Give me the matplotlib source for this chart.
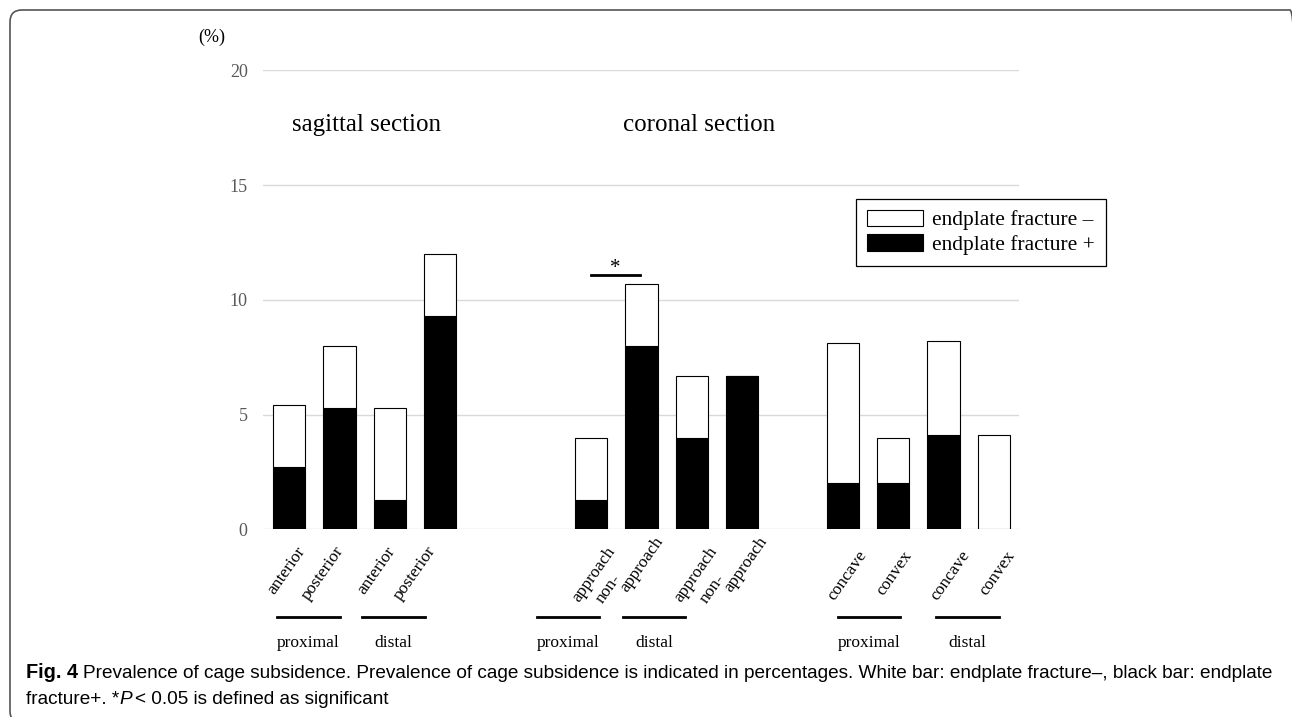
import matplotlib
matplotlib.use('Agg')
import matplotlib.pyplot as plt
import matplotlib.patches as mpatches
from matplotlib.transforms import IdentityTransform
import numpy as np

# prevalence of cage subsidence (%)
bar_labels = ['anterior', 'posterior', 'anterior', 'posterior',
              'approach', 'non-\napproach', 'approach', 'non-\napproach',
              'concave', 'convex', 'concave', 'convex']
fracture_pos = [2.7, 5.3, 1.3, 9.3, 1.3, 8.0, 4.0, 6.7, 2.0, 2.0, 4.1, 0.0]
fracture_neg = [2.7, 2.7, 4.0, 2.7, 2.7, 2.7, 2.7, 0.0, 6.1, 2.0, 4.1, 4.1]
group_labels = ['proximal', 'distal', 'proximal', 'distal', 'proximal', 'distal']
section_titles = ['sagittal section', 'coronal section']
yticks = [0, 5, 10, 15, 20]

# layout
xpos = np.array([0, 1, 2, 3, 6, 7, 8, 9, 11, 12, 13, 14])
label_dx = [13, 1, 2, -8, 21, 19, 22, 22, 21, 16, 23, 18]
label_dy = [-19, -19, -19, -19, -19, -9, -19, -9, -23, -23, -23, -23]
group_mid = [0.38, 2.07, 5.54, 7.25, 11.52, 13.48]
serif = 'Liberation Serif'

W, H = 1292, 717
fig = plt.figure(figsize=(W / 100, H / 100), dpi=100)
ax = fig.add_axes([263 / W, 1 - 529.4 / H, (1019 - 263) / W, (529.4 - 70.3) / H])

ax.bar(xpos, fracture_pos, width=0.64, color='black', edgecolor='black', linewidth=0.8, zorder=3)
ax.bar(xpos, fracture_neg, bottom=fracture_pos, width=0.64, color='white',
       edgecolor='black', linewidth=0.8, zorder=3)

ax.set_xlim(-0.52, 14.5)
ax.set_ylim(0, 20)
ax.set_yticks(yticks)
ax.set_yticklabels([str(v) for v in yticks], family=serif, fontsize=13, color='#595959')
ax.tick_params(axis='y', length=0, pad=11)
ax.set_xticks([])
ax.grid(axis='y', color='#d9d9d9', linewidth=1, zorder=0)
for s in ax.spines.values():
    s.set_visible(False)

# rotated category labels
lab_kw = dict(textcoords='offset pixels', rotation=55, rotation_mode='anchor',
              ha='right', va='center', family=serif, fontsize=12.5, annotation_clip=False)
for i, lab in enumerate(bar_labels):
    if '\n' in lab:
        first, second = lab.split('\n')
        ax.annotate(second, xy=(xpos[i], 0), xytext=(label_dx[i], label_dy[i]), **lab_kw)
        ax.annotate(first, xy=(xpos[i], 0), xytext=(label_dx[i] - 43, label_dy[i] - 37), **lab_kw)
    else:
        ax.annotate(lab, xy=(xpos[i], 0), xytext=(label_dx[i], label_dy[i]), **lab_kw)

# group underlines and names
for m, g in zip(group_mid, group_labels):
    ax.plot([m - 0.62, m + 0.62], [-3.82, -3.82], color='black', lw=2, clip_on=False)
    ax.text(m, -4.95, g, ha='center', va='center', family=serif, fontsize=12.5)

ax.text(1.53, 17.6, section_titles[0], ha='center', va='center', family=serif, fontsize=18)
ax.text(8.14, 17.6, section_titles[1], ha='center', va='center', family=serif, fontsize=18)

# significance marker
ax.plot([6.0, 6.97], [11.1, 11.1], color='black', lw=2, clip_on=False)
ax.text(6.48, 11.35, '*', ha='center', va='center', family=serif, fontsize=15)

fig.text(212 / W, 1 - 37 / H, '(%)', ha='center', va='center', family=serif, fontsize=13)

handles = [mpatches.Patch(facecolor='white', edgecolor='black', linewidth=0.8),
           mpatches.Patch(facecolor='black', edgecolor='black', linewidth=0.8)]
leg = ax.legend(handles, ['endplate fracture \u2013', 'endplate fracture +'],
                loc='upper right', bbox_to_anchor=(1106 / W, 1 - 199 / H),
                bbox_transform=fig.transFigure, borderaxespad=0, fancybox=False,
                edgecolor='black', framealpha=1, handlelength=2.6, handleheight=0.8,
                labelspacing=0.18, handletextpad=0.45, borderpad=0.5,
                prop={'family': serif, 'size': 15.5})
leg.get_frame().set_linewidth(0.9)

# outer rounded frame (right and bottom edges fall outside the picture)
frame = mpatches.FancyBboxPatch((10, -6), 1292, 713, boxstyle='round,pad=0,rounding_size=12',
                                transform=IdentityTransform(), facecolor='none',
                                edgecolor='#555555', linewidth=1.2)
fig.patches.append(frame)

# caption
cap_font = ['Liberation Sans Narrow', 'Liberation Sans']
renderer = fig.canvas.get_renderer()


def put(x, y, s, **kw):
    t = fig.text(x / W, 1 - y / H, s, ha='left', va='center', **kw)
    bb = t.get_window_extent(renderer)
    return t, x + bb.width


cap_size = 13
t0, xe = put(26, 673, 'Fig. 4', family=cap_font, fontsize=cap_size, weight='bold')
rest = ('Prevalence of cage subsidence. Prevalence of cage subsidence is indicated in '
        'percentages. White bar: endplate fracture\u2013, black bar: endplate')
t1, xe1 = put(83, 673, rest, family=cap_font, fontsize=cap_size)
scale = (1275 - 83) / (xe1 - 83)
cs = cap_size * scale
t1.set_fontsize(cs)
t0.set_fontsize(cs * 1.05)
ta, xa = put(26, 700, 'fracture+. *', family=cap_font, fontsize=cs)
tb, xb = put(xa, 700, 'P', family=cap_font, fontsize=cs, style='italic')
tc, xc = put(xb + 3, 700, '< 0.05 is defined as significant', family=cap_font, fontsize=cs)

fig.savefig('out.png', dpi=100)
